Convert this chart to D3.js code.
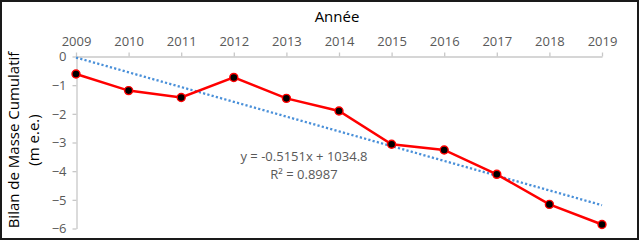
<!DOCTYPE html>
<html>
<head>
<meta charset="utf-8">
<script src="https://cdn.jsdelivr.net/npm/d3@7"></script>
<style>
  body { margin: 0; background: #fff; }
  text { font-family: "Open Sans", "Liberation Sans", sans-serif; }
</style>
</head>
<body>
<svg id="chart" width="640" height="241"></svg>
<script>
// chart values
var years = [2009, 2010, 2011, 2012, 2013, 2014, 2015, 2016, 2017, 2018, 2019];
var bilan = [-0.61, -1.19, -1.43, -0.73, -1.46, -1.90, -3.06, -3.26, -4.11, -5.16, -5.86];
var yTicks = [0, -1, -2, -3, -4, -5, -6];
// trend line from the equation printed on the chart
var trendSlope = -0.5151;
var trendIntercept = 1034.8;
var trendLabel = "y = -0.5151x + 1034.8";
var r2Label = "R² = 0.8987";

var svg = d3.select("#chart");

var x = d3.scaleLinear().domain([2009, 2019]).range([76, 602]);
var y = d3.scaleLinear().domain([0, -6]).range([56.5, 228.5]);

// frame
svg.append("rect")
    .attr("x", 1).attr("y", 1)
    .attr("width", 637).attr("height", 238)
    .attr("fill", "none")
    .attr("stroke", "#1a1a1a")
    .attr("stroke-width", 2);

// x axis on top
var xAxis = svg.append("g")
    .attr("transform", "translate(0,56.5)")
    .call(d3.axisTop(x).tickValues(years).tickFormat(d3.format("d")).tickSize(4).tickSizeOuter(0));

// y axis
var yAxis = svg.append("g")
    .attr("transform", "translate(76.5,0)")
    .call(d3.axisLeft(y).tickValues(yTicks).tickFormat(d3.format("d")).tickSize(4).tickSizeOuter(0));

[xAxis, yAxis].forEach(function(g) {
    g.select(".domain").attr("stroke", "#c8c8c8").attr("stroke-width", 1.3);
    g.selectAll(".tick line").attr("stroke", "#c8c8c8").attr("stroke-width", 1.3);
    g.selectAll(".tick text")
        .attr("fill", "#595959")
        .style("font-size", "13px")
        .style("font-family", "'Open Sans', sans-serif");
});
xAxis.selectAll(".tick text").attr("y", -11);
yAxis.selectAll(".tick text").attr("x", -10);

// trend line (dotted)
var trend = d3.line()
    .x(function(d) { return x(d); })
    .y(function(d) { return y(trendSlope * d + trendIntercept); });

svg.append("path")
    .datum([years[0], years[years.length - 1]])
    .attr("d", trend)
    .attr("fill", "none")
    .attr("stroke", "#4a90d9")
    .attr("stroke-width", 2.3)
    .attr("stroke-dasharray", "2.2,2.2");

// data line
var line = d3.line()
    .x(function(d, i) { return x(years[i]); })
    .y(function(d) { return y(d); });

svg.append("path")
    .datum(bilan)
    .attr("d", line)
    .attr("fill", "none")
    .attr("stroke", "#ff0000")
    .attr("stroke-width", 2.5);

svg.selectAll(".pt")
    .data(bilan)
    .enter()
    .append("circle")
    .attr("cx", function(d, i) { return x(years[i]); })
    .attr("cy", function(d) { return y(d); })
    .attr("r", 4)
    .attr("fill", "#000")
    .attr("stroke", "#ff0000")
    .attr("stroke-width", 1.4);

// titles
svg.append("text")
    .attr("x", 337).attr("y", 22)
    .attr("text-anchor", "middle")
    .style("font-size", "15px")
    .attr("fill", "#000")
    .text("Année");

var yt = svg.append("text")
    .attr("transform", "translate(0,140) rotate(-90)")
    .attr("text-anchor", "middle")
    .style("font-size", "15px")
    .attr("fill", "#000");
yt.append("tspan").attr("x", 0).attr("y", 19).text("Bilan de Masse Cumulatif");
yt.append("tspan").attr("x", 0).attr("y", 39).text("(m e.e.)");

// equation label
svg.append("text")
    .attr("x", 304).attr("y", 161)
    .attr("text-anchor", "middle")
    .style("font-size", "13px")
    .attr("fill", "#595959")
    .text(trendLabel);

svg.append("text")
    .attr("x", 304).attr("y", 179)
    .attr("text-anchor", "middle")
    .style("font-size", "13px")
    .attr("fill", "#595959")
    .text(r2Label);
</script>
</body>
</html>
